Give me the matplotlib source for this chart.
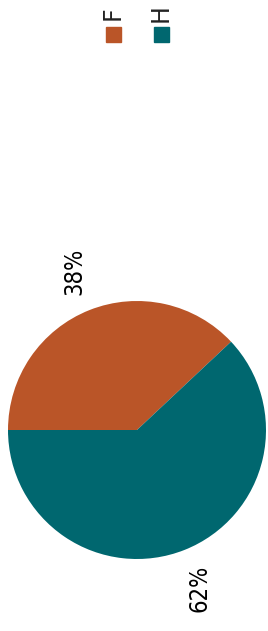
import matplotlib
matplotlib.use("Agg")
import matplotlib.pyplot as plt
from matplotlib.patches import Rectangle

# données
categories = ["F", "H"]
values = [38, 62]
colors = ["#BA5528", "#00676F"]

plt.rcParams['font.family'] = ['DejaVu Sans']

fig = plt.figure(figsize=(2.68, 6.31), dpi=100)
W, H = 268, 631

# camembert : centre (137, 430), rayon 129 px
cx, cy, r = 137, 430, 129
ax = fig.add_axes([(cx - r) / W, (H - cy - r) / H, 2 * r / W, 2 * r / H])
ax.pie(values, colors=colors, startangle=180, counterclock=False,
       autopct=lambda p: "%d%%" % round(p), pctdistance=1.32,
       textprops=dict(rotation=90, fontsize=17, fontstretch="condensed",
                      color="black"),
       wedgeprops=dict(linewidth=0))
ax.set_xlim(-1, 1)
ax.set_ylim(-1, 1)
ax.set_aspect("equal")
ax.axis("off")

# légende
for i, (lab, col) in enumerate(zip(categories, colors)):
    x = 113 + 48 * i
    fig.patches.append(Rectangle(((x - 7.5) / W, 1 - 42 / H), 15 / W, 15 / H,
                                 transform=fig.transFigure, color=col))
    fig.text(x / W, 1 - 13 / H, lab, rotation=90, fontsize=17,
             ha="center", va="center", color="#222222")

fig.savefig("out.png", dpi=100)
